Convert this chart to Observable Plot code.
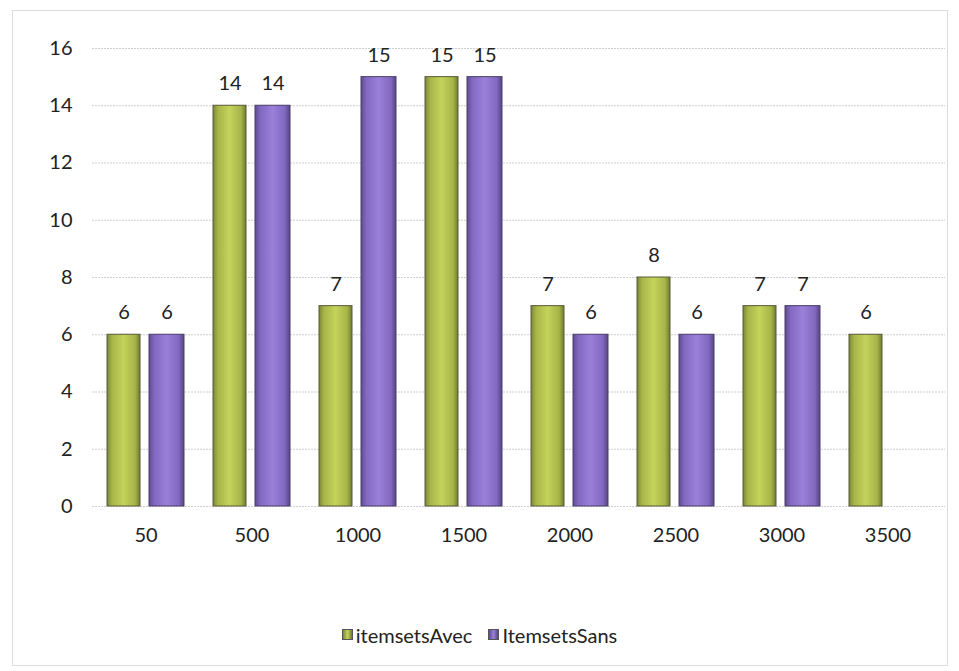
<!DOCTYPE html>
<html>
<head>
<meta charset="utf-8">
<script src="https://cdn.jsdelivr.net/npm/d3@7"></script>
<script src="https://cdn.jsdelivr.net/npm/@observablehq/plot@0.6"></script>
<style>
  body { margin: 0; background: #fff; font-family: Lato, "Open Sans", sans-serif; }
  #wrap { position: relative; width: 959px; height: 671px; overflow: hidden; }
  #border { position: absolute; left: 12px; top: 10px; width: 934px; height: 654px; border: 1px solid #dcdcdc; pointer-events: none; }
  #chart { position: absolute; left: 0; top: 0; }
  #legend { position: absolute; left: 0; top: 620px; width: 959px; text-align: center; font-size: 20px; color: #222; }
  #legend span.item { display: inline-flex; align-items: center; margin: 0 8px; }
  #legend span.sw { display: inline-block; width: 11px; height: 11px; margin-right: 3px; border: 1px solid #555; box-sizing: border-box; }
</style>
</head>
<body>
<div id="wrap">
  <div id="chart"></div>
  <div id="legend"></div>
  <div id="border"></div>
</div>
<script>
const categories = ["50", "500", "1000", "1500", "2000", "2500", "3000", "3500"];
const seriesNames = ["itemsetsAvec", "ItemsetsSans"];
const avecValues = [6, 14, 7, 15, 7, 8, 7, 6];
const sansValues = [6, 14, 15, 15, 6, 6, 7, null];
const yTicks = [0, 2, 4, 6, 8, 10, 12, 14, 16];
const seriesFills = ["url(#gradAvec)", "url(#gradSans)"];

const avecData = categories.map((c, i) => ({cat: c, series: seriesNames[0], value: avecValues[i]})).filter(d => d.value != null);
const sansData = categories.map((c, i) => ({cat: c, series: seriesNames[1], value: sansValues[i]})).filter(d => d.value != null);

const plot = Plot.plot({
  width: 959,
  height: 600,
  marginLeft: 92,
  marginRight: 18,
  marginTop: 48,
  marginBottom: 94,
  style: {fontFamily: "Lato, 'Open Sans', sans-serif", fontSize: "20px", color: "#222", background: "transparent"},
  x: {domain: categories, paddingInner: 0.278, paddingOuter: 0.122, label: null, tickSize: 0, tickPadding: 21},
  y: {domain: [0, 16], ticks: yTicks, label: null, tickSize: 0, tickPadding: 20},
  marks: [
    Plot.ruleY(yTicks, {stroke: "#cfcfcf", strokeWidth: 1, strokeDasharray: "2,1", insetRight: -4}),
    Plot.barY(avecData, {x: "cat", y: "value", insetRight: 44, fill: seriesFills[0], stroke: "#5a5a3a", strokeWidth: 1}),
    Plot.barY(sansData, {x: "cat", y: "value", insetLeft: 42, fill: seriesFills[1], stroke: "#4a3f6a", strokeWidth: 1}),
    Plot.text(avecData, {x: "cat", y: "value", text: d => String(d.value), dx: -22, dy: -22, fill: "#222"}),
    Plot.text(sansData, {x: "cat", y: "value", text: d => String(d.value), dx: 21, dy: -22, fill: "#222"})
  ]
});

const defs = `
<defs>
  <linearGradient id="gradAvec" x1="0" x2="1" y1="0" y2="0">
    <stop offset="0" stop-color="#7b8638"/>
    <stop offset="0.15" stop-color="#a6b548"/>
    <stop offset="0.5" stop-color="#c4d35a"/>
    <stop offset="0.85" stop-color="#a6b548"/>
    <stop offset="1" stop-color="#6f7a30"/>
  </linearGradient>
  <linearGradient id="gradSans" x1="0" x2="1" y1="0" y2="0">
    <stop offset="0" stop-color="#5e4c8e"/>
    <stop offset="0.15" stop-color="#8268c0"/>
    <stop offset="0.5" stop-color="#9a80d8"/>
    <stop offset="0.85" stop-color="#8268c0"/>
    <stop offset="1" stop-color="#564682"/>
  </linearGradient>
</defs>`;
plot.insertAdjacentHTML("afterbegin", defs);
document.getElementById("chart").appendChild(plot);

const legend = document.getElementById("legend");
const swatchBg = ["linear-gradient(90deg,#7b8638,#c4d35a,#6f7a30)", "linear-gradient(90deg,#5e4c8e,#9a80d8,#564682)"];
seriesNames.forEach((name, i) => {
  const item = document.createElement("span");
  item.className = "item";
  const sw = document.createElement("span");
  sw.className = "sw";
  sw.style.background = swatchBg[i];
  item.appendChild(sw);
  item.appendChild(document.createTextNode(name));
  legend.appendChild(item);
});
</script>
</body>
</html>
